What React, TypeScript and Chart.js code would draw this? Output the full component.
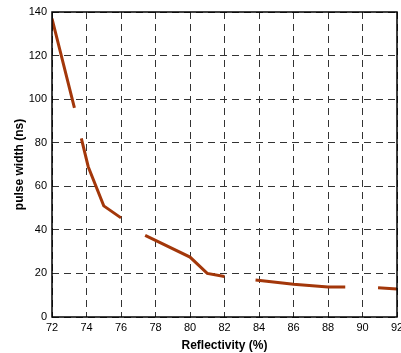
import React, { useEffect, useRef } from "react";
import { Chart, registerables } from "chart.js";

Chart.register(...registerables);

// Data: reflectivity (%) vs pulse width (ns); null = gap between segments
const reflectivity = [72, 73.3, null, 73.7, 74.1, 75, 76, null, 77.4, 80, 81, 82, null, 83.8, 86, 88, 89, null, 90.9, 92];
const pulseWidth = [137, 96, null, 82, 69, 51, 45.5, null, 37.5, 27.5, 20, 18.6, null, 17, 15, 13.8, 13.8, null, 13.4, 12.8];
const xTicks = [72, 74, 76, 78, 80, 82, 84, 86, 88, 90, 92];
const yTicks = [0, 20, 40, 60, 80, 100, 120, 140];

export default function App() {
  const ref = useRef<HTMLCanvasElement>(null);
  useEffect(() => {
    document.body.style.margin = "0";
    const data = reflectivity.map((x, i) => ({ x: x as any, y: pulseWidth[i] as any }));
    const boxPlugin = {
      id: "box",
      afterDraw(chart: any) {
        const { ctx, chartArea: a } = chart;
        ctx.save();
        ctx.strokeStyle = "#000";
        ctx.lineWidth = 1.5;
        ctx.strokeRect(a.left, a.top, a.right - a.left, a.bottom - a.top);
        ctx.restore();
      },
    };
    const chart = new Chart(ref.current!, {
      type: "line",
      data: {
        datasets: [
          {
            data,
            borderColor: "#a3370a",
            borderWidth: 3,
            pointRadius: 0,
            spanGaps: false,
            tension: 0,
          },
        ],
      },
      options: {
        animation: false,
        responsive: false,
        layout: { padding: { left: 12, right: 4, top: 12, bottom: 0 } },
        plugins: { legend: { display: false }, tooltip: { enabled: false } },
        scales: {
          x: {
            type: "linear",
            min: 72,
            max: 92,
            afterBuildTicks: (s: any) => {
              s.ticks = xTicks.map((v) => ({ value: v }));
            },
            afterFit: (s: any) => {
              s.height = 36;
              s.paddingRight = 0;
              s.paddingLeft = 0;
            },
            grid: { color: "#333", lineWidth: 1, drawTicks: false },
            border: { display: false, dash: [7, 5] },
            ticks: {
              color: "#000",
              font: { family: "Liberation Sans", size: 11 },
              padding: 4,
              maxRotation: 0,
              autoSkip: false,
            },
            title: {
              display: true,
              text: "Reflectivity (%)",
              color: "#000",
              font: { family: "Liberation Sans", size: 12, weight: "bold" },
              padding: { top: 1, bottom: 0 },
            },
          },
          y: {
            type: "linear",
            min: 0,
            max: 140,
            afterBuildTicks: (s: any) => {
              s.ticks = yTicks.map((v) => ({ value: v }));
            },
            afterFit: (s: any) => {
              s.width = 40;
            },
            grid: { color: "#333", lineWidth: 1, drawTicks: false },
            border: { display: false, dash: [7, 5] },
            ticks: {
              color: "#000",
              font: { family: "Liberation Sans", size: 11 },
              padding: 5,
              autoSkip: false,
            },
            title: {
              display: true,
              text: "pulse width (ns)",
              color: "#000",
              font: { family: "Liberation Sans", size: 12, weight: "bold" },
              padding: { top: 0, bottom: 2 },
            },
          },
        },
      },
      plugins: [boxPlugin],
    });
    return () => chart.destroy();
  }, []);
  return (
    <div style={{ width: 401, height: 353 }}>
      <canvas ref={ref} width={401} height={353} style={{ display: "block", width: 401, height: 353 }} />
    </div>
  );
}
